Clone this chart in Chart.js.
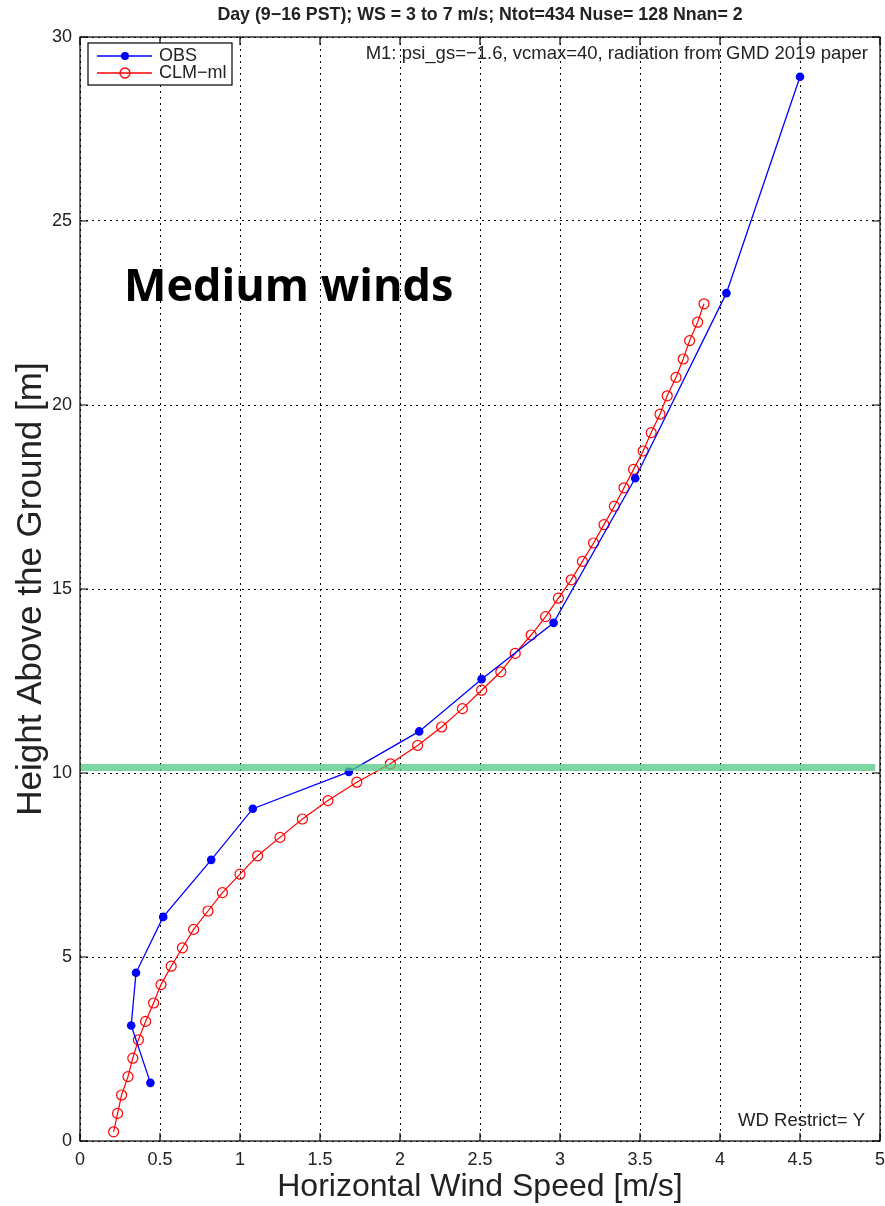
<!DOCTYPE html>
<html>
<head>
<meta charset="utf-8">
<script src="https://cdn.jsdelivr.net/npm/chart.js@4.4.1/dist/chart.umd.min.js"></script>
<style>
  html, body { margin: 0; padding: 0; background: #fff; }
  #wrap { width: 885px; height: 1206px; }
</style>
</head>
<body>
<div id="wrap"><canvas id="grafico" width="885" height="1206"></canvas></div>
<script>
// Datos
const obsViento = [0.44, 0.32, 0.35, 0.52, 0.82, 1.08, 1.68, 2.12, 2.51, 2.96, 3.47, 4.04, 4.50];
const obsAltura = [1.58, 3.14, 4.57, 6.09, 7.64, 9.03, 10.03, 11.13, 12.55, 14.08, 18.01, 23.04, 28.92];

const clmViento = [0.21, 0.235, 0.26, 0.30, 0.33, 0.365, 0.41, 0.46, 0.506, 0.57,
                   0.64, 0.71, 0.80, 0.89, 1.00, 1.11, 1.25, 1.39, 1.55, 1.73,
                   1.94, 2.11, 2.26, 2.39, 2.51, 2.63, 2.72, 2.82, 2.91, 2.99,
                   3.07, 3.14, 3.21, 3.275, 3.34, 3.40, 3.46, 3.52, 3.57, 3.625,
                   3.67, 3.725, 3.77, 3.81, 3.86, 3.90];
const clmAltura = [0.25, 0.75, 1.25, 1.75, 2.25, 2.75, 3.25, 3.75, 4.25, 4.75,
                   5.25, 5.75, 6.25, 6.75, 7.25, 7.75, 8.25, 8.75, 9.25, 9.75,
                   10.25, 10.75, 11.25, 11.75, 12.25, 12.75, 13.25, 13.75, 14.25, 14.75,
                   15.25, 15.75, 16.25, 16.75, 17.25, 17.75, 18.25, 18.75, 19.25, 19.75,
                   20.25, 20.75, 21.25, 21.75, 22.25, 22.75];

// linea verde horizontal (anotacion)
const verdeX = [0, 4.97];
const verdeY = [10.15, 10.15];

const ticksX = [0, 0.5, 1, 1.5, 2, 2.5, 3, 3.5, 4, 4.5, 5];
const ticksY = [0, 5, 10, 15, 20, 25, 30];

const titulo = 'Day (9\u221216 PST); WS = 3 to 7 m/s; Ntot=434 Nuse= 128 Nnan= 2';
const notaArriba = 'M1: psi_gs=\u22121.6, vcmax=40, radiation from GMD 2019 paper';
const notaAbajo = 'WD Restrict= Y';
const rotulo = 'Medium winds';

const puntos = (xs, ys) => xs.map((x, i) => ({ x: x, y: ys[i] }));

const FUENTE = "'Liberation Sans', Arial, Helvetica, sans-serif";
Chart.defaults.font.family = FUENTE;
Chart.defaults.color = '#222';

// Caja, ticks hacia dentro, leyenda y textos
const extras = {
    id: 'extras',
    afterDraw(chart) {
        const ctx = chart.ctx;
        const a = chart.chartArea;
        const sx = chart.scales.x, sy = chart.scales.y;
        ctx.save();

        // caja del grafico
        ctx.strokeStyle = '#000';
        ctx.lineWidth = 1.2;
        ctx.setLineDash([]);
        ctx.strokeRect(a.left, a.top, a.right - a.left, a.bottom - a.top);

        // ticks hacia dentro
        ctx.beginPath();
        ticksX.forEach(v => {
            const px = sx.getPixelForValue(v);
            ctx.moveTo(px, a.bottom); ctx.lineTo(px, a.bottom - 8);
            ctx.moveTo(px, a.top); ctx.lineTo(px, a.top + 8);
        });
        ticksY.forEach(v => {
            const py = sy.getPixelForValue(v);
            ctx.moveTo(a.left, py); ctx.lineTo(a.left + 8, py);
            ctx.moveTo(a.right, py); ctx.lineTo(a.right - 8, py);
        });
        ctx.stroke();

        // titulo
        ctx.fillStyle = '#222';
        ctx.font = 'bold 17.8px ' + FUENTE;
        ctx.textAlign = 'center';
        ctx.textBaseline = 'middle';
        ctx.fillText(titulo, (a.left + a.right) / 2, 15);

        // notas
        ctx.font = '18.5px ' + FUENTE;
        ctx.textAlign = 'right';
        ctx.fillText(notaArriba, 868, 54);
        ctx.fillText(notaAbajo, 865, 1121);

        // leyenda
        ctx.fillStyle = '#fff';
        ctx.fillRect(88, 43, 144, 42);
        ctx.strokeStyle = '#000';
        ctx.lineWidth = 1.2;
        ctx.strokeRect(88, 43, 144, 42);

        ctx.lineWidth = 1.3;
        ctx.strokeStyle = '#0000ff';
        ctx.beginPath(); ctx.moveTo(97, 56); ctx.lineTo(152, 56); ctx.stroke();
        ctx.fillStyle = '#0000ff';
        ctx.beginPath(); ctx.arc(125, 56, 4, 0, Math.PI * 2); ctx.fill();

        ctx.strokeStyle = '#ff0000';
        ctx.beginPath(); ctx.moveTo(97, 73); ctx.lineTo(152, 73); ctx.stroke();
        ctx.beginPath(); ctx.arc(125, 73, 5, 0, Math.PI * 2); ctx.stroke();

        ctx.fillStyle = '#222';
        ctx.font = '18px ' + FUENTE;
        ctx.textAlign = 'left';
        ctx.fillText('OBS', 159, 56);
        ctx.fillText('CLM\u2212ml', 159, 73);

        // rotulo grande
        ctx.fillStyle = '#000';
        ctx.font = "bold 45px 'Open Sans', Lato, sans-serif";
        ctx.textAlign = 'left';
        ctx.textBaseline = 'alphabetic';
        ctx.fillText(rotulo, 124, 301);

        ctx.restore();
    }
};

new Chart(document.getElementById('grafico'), {
    type: 'scatter',
    data: {
        datasets: [
            {
                label: 'verde',
                data: puntos(verdeX, verdeY),
                showLine: true,
                borderColor: 'rgba(80, 200, 130, 0.75)',
                borderWidth: 7,
                pointRadius: 0,
                order: 0
            },
            {
                label: 'OBS',
                data: puntos(obsViento, obsAltura),
                showLine: true,
                borderColor: '#0000ff',
                backgroundColor: '#0000ff',
                borderWidth: 1.3,
                pointRadius: 4.3,
                pointBorderWidth: 0,
                order: 1
            },
            {
                label: 'CLM\u2212ml',
                data: puntos(clmViento, clmAltura),
                showLine: true,
                borderColor: '#ff0000',
                backgroundColor: 'rgba(0,0,0,0)',
                borderWidth: 1.2,
                pointRadius: 5,
                pointBorderWidth: 1.2,
                order: 2
            }
        ]
    },
    options: {
        responsive: false,
        animation: false,
        devicePixelRatio: 1,
        layout: { autoPadding: false, padding: { top: 37, right: 5, left: 0, bottom: 0 } },
        plugins: {
            legend: { display: false },
            tooltip: { enabled: false }
        },
        scales: {
            x: {
                type: 'linear',
                min: 0,
                max: 5,
                afterFit: s => { s.height = 65; s.paddingLeft = 0; s.paddingRight = 0; },
                afterBuildTicks: s => { s.ticks = ticksX.map(v => ({ value: v })); },
                ticks: { font: { size: 18 }, padding: 8, color: '#222', maxRotation: 0,
                         callback: v => String(v) },
                grid: { color: '#000', lineWidth: 1, drawTicks: false },
                border: { display: false, dash: [2, 4] },
                title: {
                    display: true,
                    text: 'Horizontal Wind Speed [m/s]',
                    font: { size: 32 },
                    color: '#222',
                    padding: { top: 0, bottom: 0 }
                }
            },
            y: {
                type: 'linear',
                min: 0,
                max: 30,
                afterFit: s => { s.width = 80; s.paddingTop = 0; s.paddingBottom = 0; },
                afterBuildTicks: s => { s.ticks = ticksY.map(v => ({ value: v })); },
                ticks: { font: { size: 18 }, padding: 8, color: '#222',
                         callback: v => String(v) },
                grid: { color: '#000', lineWidth: 1, drawTicks: false },
                border: { display: false, dash: [2, 4] },
                title: {
                    display: true,
                    text: 'Height Above the Ground [m]',
                    font: { size: 35 },
                    color: '#222',
                    padding: { top: 10, bottom: 0 }
                }
            }
        }
    },
    plugins: [extras]
});
</script>
</body>
</html>
